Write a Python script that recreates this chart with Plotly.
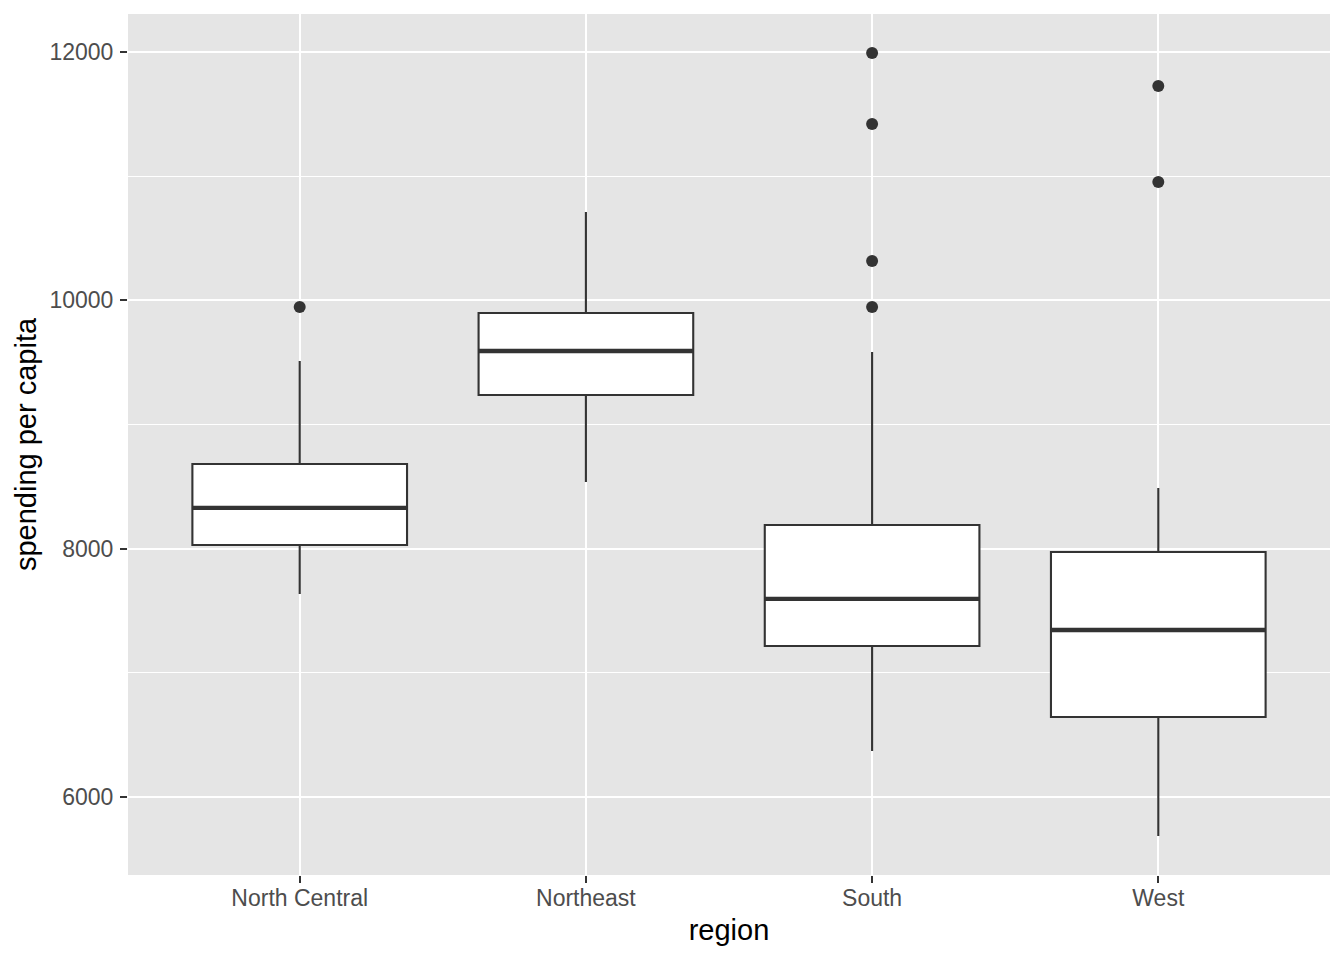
import plotly.graph_objects as go

regions = ["North Central", "Northeast", "South", "West"]
q1 = [8030, 9238, 7216, 6644]
median = [8328, 9592, 7595, 7345]
q3 = [8682, 9898, 8191, 7973]
lower_whisker = [7635, 8537, 6370, 5686]
upper_whisker = [9512, 10711, 9584, 8489]

outlier_region = ["North Central", "South", "South", "South", "South", "West", "West"]
outlier_value = [9946, 11992, 11420, 10317, 9946, 11726, 10953]

major_ticks = [6000, 8000, 10000, 12000]
major_labels = ["6000", "8000", "10000", "12000"]
minor_ticks = [7000, 9000, 11000]

BOX_W = 0.75
pos = list(range(len(regions)))
ink = "#333333"

fig = go.Figure()
fig.add_trace(go.Box(
    x=pos, q1=q1, median=median, q3=q3,
    lowerfence=lower_whisker, upperfence=upper_whisker,
    width=BOX_W, whiskerwidth=0, boxpoints=False,
    fillcolor="white", line=dict(color=ink, width=2.1),
    showlegend=False, hoverinfo="skip",
))

mx, my = [], []
for i, m in zip(pos, median):
    mx += [i - BOX_W / 2, i + BOX_W / 2, None]
    my += [m, m, None]
fig.add_trace(go.Scatter(x=mx, y=my, mode="lines",
                         line=dict(color=ink, width=4.3),
                         showlegend=False, hoverinfo="skip"))

fig.add_trace(go.Scatter(
    x=[regions.index(r) for r in outlier_region], y=outlier_value,
    mode="markers", marker=dict(color=ink, size=12),
    showlegend=False, hoverinfo="skip"))

font = "Liberation Sans, Arial, sans-serif"
fig.update_layout(
    width=1344, height=960,
    margin=dict(l=128, r=14, t=14, b=85),
    paper_bgcolor="white", plot_bgcolor="#E5E5E5",
    font=dict(family=font, color="black"),
    xaxis=dict(
        range=[-0.6, 3.6], tickvals=pos, ticktext=regions,
        showgrid=True, gridcolor="white", gridwidth=2.1, zeroline=False,
        ticks="outside", ticklen=7, tickwidth=2.1, tickcolor=ink,
        tickfont=dict(size=23, color="#4D4D4D", family=font),
        ticklabelstandoff=-5,
        title=dict(text="region", font=dict(size=29, color="black", family=font), standoff=10),
        showline=False, automargin=False,
    ),
    yaxis=dict(
        range=[5372, 12306], tickvals=major_ticks, ticktext=major_labels,
        showgrid=True, gridcolor="white", gridwidth=2.1, zeroline=False,
        ticks="outside", ticklen=7, tickwidth=2.1, tickcolor=ink,
        tickfont=dict(size=23, color="#4D4D4D", family=font),
        ticklabelstandoff=2,
        title=dict(text="spending per capita", font=dict(size=29, color="black", family=font), standoff=4),
        minor=dict(tickvals=minor_ticks, showgrid=True, gridcolor="white", gridwidth=1.07, ticks=""),
        showline=False, automargin=False,
    ),
)

fig.write_html("out.html")
